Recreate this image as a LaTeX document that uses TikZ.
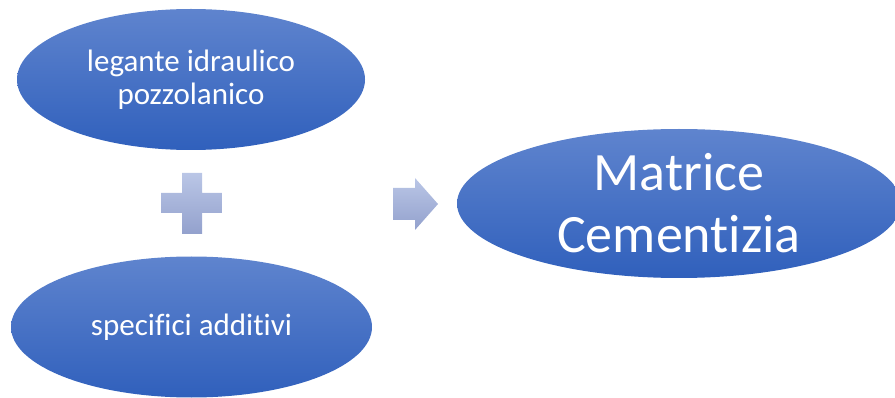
\documentclass[tikz,border=0pt]{standalone}
\usepackage{fontspec}
\setmainfont[Ligatures=NoCommon]{Carlito}
\usetikzlibrary{shapes.geometric}
\definecolor{eltop}{HTML}{5F84CE}
\definecolor{elbot}{HTML}{3060BC}
\definecolor{sytop}{HTML}{BAC6E6}
\definecolor{sybot}{HTML}{93A1CD}
\tikzset{
  oval/.style={ellipse, inner sep=0pt, top color=eltop, bottom color=elbot, text=white, align=center},
  symb/.style={top color=sytop, bottom color=sybot, draw=none}
}
\begin{document}
\begin{tikzpicture}[x=1pt,y=-1pt]
\useasboundingbox (0,0) rectangle (895,398);
\clip (0,0) rectangle (895,398);
\node[oval, minimum width=348pt, minimum height=141pt, font=\fontsize{31}{33}\selectfont] (a) at (191,79.5) {legante idraulico\\pozzolanico};
\node[oval, minimum width=361pt, minimum height=141pt, font=\fontsize{31}{33}\selectfont] (b) at (191.5,327) {specifici additivi};
\node[oval, minimum width=444pt, minimum height=149pt, font=\fontsize{54}{62}\selectfont] (c) at (679,203.5) {Matrice\\Cementizia};
% plus sign
\path[symb] (182,173) -- (202,173) -- (202,193) -- (222,193) -- (222,213) -- (202,213) -- (202,234) -- (182,234) -- (182,213) -- (161,213) -- (161,193) -- (182,193) -- cycle;
% arrow
\path[symb] (393,188) -- (415,188) -- (415,178) -- (438,204) -- (415,230) -- (415,220) -- (393,220) -- cycle;
\end{tikzpicture}
\end{document}
